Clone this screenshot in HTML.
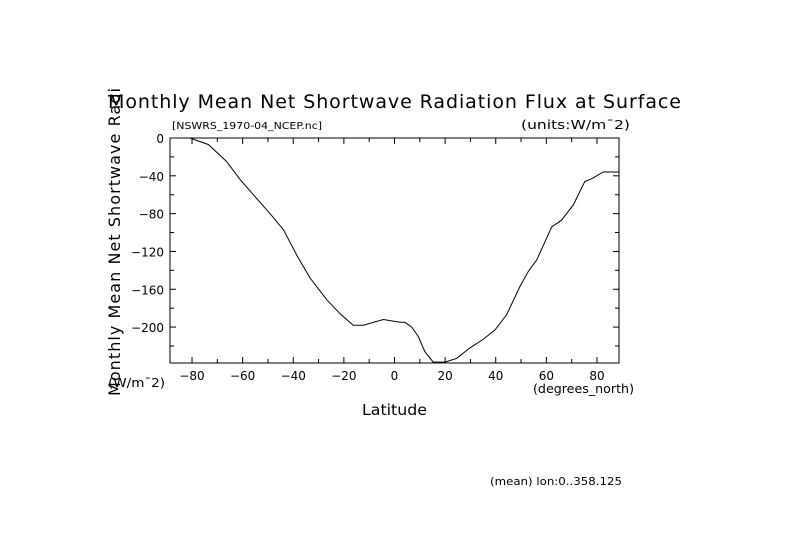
<!DOCTYPE html>
<html><head><meta charset="utf-8"><style>
html,body{margin:0;padding:0;background:#fff;}
svg{display:block;font-family:"DejaVu Sans","Liberation Sans",sans-serif;}
</style></head><body>
<svg id="chart" width="789" height="558" viewBox="0 0 789 558">
<defs><clipPath id="ytclip"><rect x="0" y="86" width="200" height="400"/></clipPath>
<clipPath id="plotclip"><rect x="170" y="138" width="449" height="225"/></clipPath></defs>
<text x="108" y="108" font-size="19" fill="#000" textLength="573" lengthAdjust="spacing">Monthly Mean Net Shortwave Radiation Flux at Surface</text>
<text x="172" y="129" font-size="10" fill="#000" textLength="150" lengthAdjust="spacingAndGlyphs">[NSWRS_1970-04_NCEP.nc]</text>
<text x="521" y="129" font-size="12" fill="#000" textLength="109" lengthAdjust="spacingAndGlyphs">(units:W/m¯2)</text>
<g clip-path="url(#ytclip)"><text transform="translate(120,396) rotate(-90)" font-size="16" fill="#000" textLength="496" lengthAdjust="spacing">Monthly Mean Net Shortwave Radiation Flux at Surface</text></g>
<text x="108" y="387" font-size="12" fill="#000" textLength="57" lengthAdjust="spacingAndGlyphs">(W/m¯2)</text>
<text x="533" y="393" font-size="12" fill="#000" textLength="101" lengthAdjust="spacingAndGlyphs">(degrees_north)</text>
<text x="362" y="415" font-size="15" fill="#000" textLength="65" lengthAdjust="spacingAndGlyphs">Latitude</text>
<text x="490" y="485" font-size="11" fill="#000" textLength="132" lengthAdjust="spacingAndGlyphs">(mean) lon:0..358.125</text>
<rect x="170" y="138" width="449" height="225" fill="none" stroke="#000" stroke-width="1"/>
<g id="ticks"></g>
<path id="line" fill="none" stroke="#000" stroke-width="1" clip-path="url(#plotclip)"/>
</svg>
<script>
const lats=[-88.7,-80.8,-73.5,-66.3,-61,-55.8,-49.2,-43.9,-38.6,-33.4,-26.8,-21.5,-16.3,-12.3,-4.4,2.2,4.1,6.8,9.4,12,15.3,20,24.6,29.8,35,39.7,44.3,49.6,52.9,56.2,62.1,66,70.6,75.2,77.9,82.5,88.7];
const flux=[0,0,-7,-25,-44,-60,-80,-97,-124,-148,-171,-186,-198,-198,-192,-195,-195,-200,-210,-226,-237,-237,-233,-222,-213,-203,-187,-157,-141,-129,-94,-87,-71,-46,-43,-36,-36];
const xTickLabels=[-80,-60,-40,-20,0,20,40,60,80];
const yTickLabels=[0,-40,-80,-120,-160,-200];
const X0=170,X1=619,Y0=138,Y1=363,xmin=-88.7,xmax=88.7,ymax=0,ymin=-238;
const sx=v=>X0+(v-xmin)/(xmax-xmin)*(X1-X0);
const sy=v=>Y0+(ymax-v)/(ymax-ymin)*(Y1-Y0);
const NS='http://www.w3.org/2000/svg';
const g=document.getElementById('ticks');
function ln(x1,y1,x2,y2){const l=document.createElementNS(NS,'line');l.setAttribute('x1',x1);l.setAttribute('y1',y1);l.setAttribute('x2',x2);l.setAttribute('y2',y2);l.setAttribute('stroke','#000');


g.appendChild(l);}
function tx(x,y,s,a){const t=document.createElementNS(NS,'text');t.setAttribute('x',x);t.setAttribute('y',y);t.setAttribute('font-size','12');t.setAttribute('text-anchor',a);t.textContent=s;


g.appendChild(t);}
for(let v=-80;v<=80;v+=10){const x=sx(v);const L=v%20===0?6:4;ln(x,Y1,x,Y1-L);ln(x,Y0,x,Y0+L);}
for(let v=0;v>=-220;v-=20){const y=sy(v);const L=v%40===0?6:4;ln(X0,y,X0+L,y);ln(X1,y,X1-L,y);}
xTickLabels.forEach(v=>tx(sx(v),380,String(v).replace('-','−'),'middle'));
yTickLabels.forEach(v=>tx(164,sy(v)+5,String(v).replace('-','−'),'end'));
document.getElementById('line').setAttribute('d',lats.map((v,i)=>(i?'L':'M')+sx(v).toFixed(1)+','+sy(flux[i]).toFixed(1)).join(''));
</script>
</body></html>
